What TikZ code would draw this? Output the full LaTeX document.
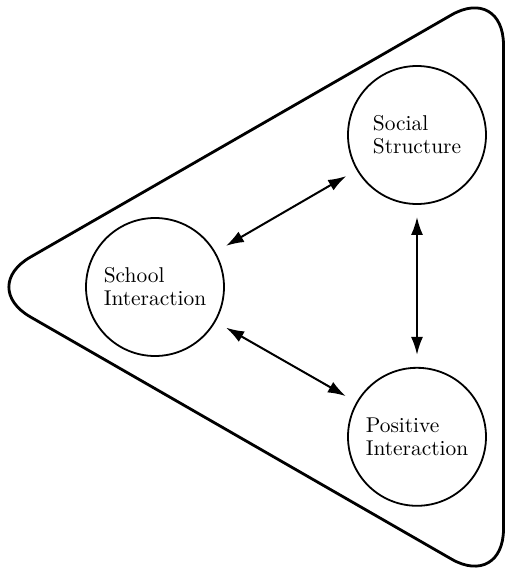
\documentclass[tikz,border=0pt]{standalone}
\usepackage{tikz}
\usetikzlibrary{arrows.meta,positioning}

\begin{document}
\begin{tikzpicture}[x=0.5pt,y=-0.5pt]

      \tikzstyle{bubble}=[circle,draw,line width=0.9pt,
        minimum size=69pt,inner sep=0pt,align=left,
        font=\fontsize{10.7}{11.5}\selectfont]
      \tikzstyle{link}=[line width=1pt,
        {Latex[length=9pt,width=6pt]}-{Latex[length=9pt,width=6pt]},
        shorten <=6pt,shorten >=6pt]

      \useasboundingbox (0,0) rectangle (505,569);

      % outer triangle round the three circles
      \draw [line width=1.4pt,rounded corners=30pt]
      (503.5,287)--(503.5,589)--(-21.6,287)--(503.5,-15)--cycle;

      \node(SOCIAL)[bubble] at (417,135){Social\\Structure};
      \node(POSITIVE)[bubble,below=81pt of SOCIAL]
        {Positive\\Interaction};
      \node(SCHOOL)[bubble] at (155,287){School\\Interaction};

      \draw [link]
      (SCHOOL)--(SOCIAL);
      \draw [link]
      (SCHOOL)--(POSITIVE);
      \draw [link]
      (SOCIAL)--(POSITIVE);

    \end{tikzpicture}
\end{document}
